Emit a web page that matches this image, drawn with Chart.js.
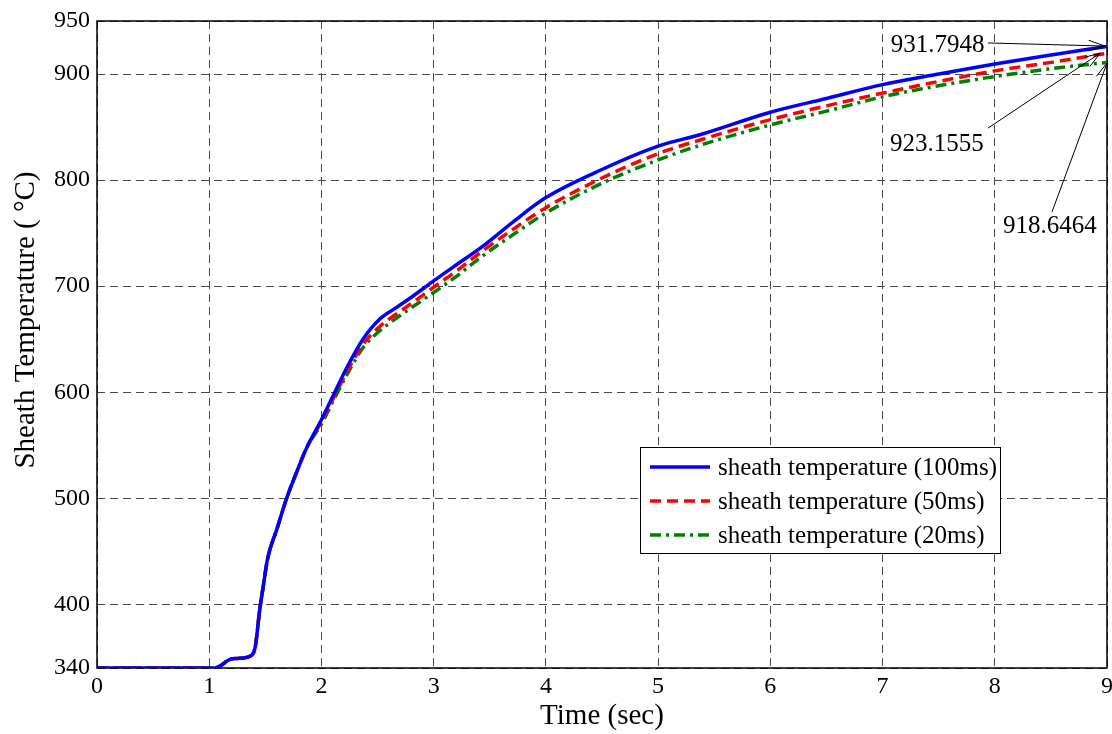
<!DOCTYPE html>
<html>
<head>
<meta charset="utf-8">
<script src="https://cdn.jsdelivr.net/npm/chart.js@4.4.1/dist/chart.umd.min.js"></script>
<style>
  html, body { margin: 0; padding: 0; background: #fff; }
  #wrap { width: 1112px; height: 734px; }
</style>
</head>
<body>
<div id="wrap"><canvas id="tempChart"></canvas></div>
<script>
// tiempo (s)
const tiempo = [0, 0.5, 1.05, 1.1, 1.18, 1.25, 1.36, 1.41, 1.45, 1.48, 1.52, 1.6, 1.69, 1.78, 1.87, 2.0, 2.11, 2.23,
    2.37, 2.52, 2.67, 2.82, 3.0, 3.2, 3.43, 3.7, 4.0, 4.5, 5.0, 5.38, 6.0, 6.5, 7.0, 7.5, 8.0, 8.5, 9.0];

// temperatura de la vaina para cada paso
const temp100ms = [340, 340, 340, 342, 348, 349, 351, 360, 395, 416, 443, 470, 500, 525, 548, 574, 598, 624,
    650, 669, 680, 691, 705, 720, 737, 760, 783.5, 810, 832, 843, 864, 877, 890, 900, 909.5, 918, 926];
const temp50ms = [340, 340, 340, 342, 348, 349, 351, 360, 395, 416, 443, 470, 500, 525, 548, 572, 595, 620,
    645, 662, 674, 685, 699, 714, 732.7, 753, 774, 802, 825, 838, 857, 870, 882, 893, 903, 911, 919.5];
const temp20ms = [340, 340, 340, 342, 348, 349, 351, 360, 395, 416, 443, 470, 500, 525, 548, 570, 593, 617,
    642, 658, 670, 681, 694, 709, 728, 748, 769, 797, 819, 833, 852, 865, 878.5, 889, 897.6, 905, 911];

const yTicks = [340, 400, 500, 600, 700, 800, 900, 950];
const xTicks = [0, 1, 2, 3, 4, 5, 6, 7, 8, 9];

// etiquetas de los valores finales: [texto, x texto, y texto, x flecha, y flecha, x punta, y punta]
const etiquetas = [
    ['931.7948', 7.49, 927.4, 7.94, 929.3, 8.98, 926.4],
    ['923.1555', 7.485, 834, 7.94, 849, 8.94, 919.8],
    ['918.6464', 8.49, 756.7, 8.51, 770, 9.0, 910.4]
];

const yTitulo = 'Sheath Temperature ( °C)';

const serif = "'Liberation Serif', 'Times New Roman', serif";

const toPoints = values => tiempo.map((t, i) => ({ x: t, y: values[i] }));

const matlabPlugin = {
    id: 'matlabExtras',
    beforeDatasetsDraw(chart) {
        const { ctx, chartArea: a } = chart;
        ctx.save();
        ctx.strokeStyle = '#000';
        ctx.lineWidth = 1.5;
        ctx.strokeRect(a.left, a.top, a.right - a.left, a.bottom - a.top);

        // titulo del eje y (algo por encima del centro, como en el original)
        ctx.translate(26, 320);
        ctx.rotate(-Math.PI / 2);
        ctx.font = '29px ' + serif;
        ctx.fillStyle = '#000';
        ctx.textAlign = 'center';
        ctx.textBaseline = 'middle';
        ctx.fillText(yTitulo, 0, 0);
        ctx.restore();
    },
    afterDatasetsDraw(chart) {
        const { ctx, scales } = chart;
        const xs = scales.x, ys = scales.y;

        // flechas y textos
        ctx.save();
        ctx.font = '25px ' + serif;
        ctx.fillStyle = '#000';
        ctx.strokeStyle = '#000';
        ctx.lineWidth = 1;
        ctx.textAlign = 'center';
        ctx.textBaseline = 'middle';
        etiquetas.forEach(([txt, tx, ty, sx, sy, ex, ey]) => {
            ctx.fillText(txt, xs.getPixelForValue(tx), ys.getPixelForValue(ty));
            const x0 = xs.getPixelForValue(sx), y0 = ys.getPixelForValue(sy);
            const x1 = xs.getPixelForValue(ex), y1 = ys.getPixelForValue(ey);
            ctx.beginPath();
            ctx.moveTo(x0, y0);
            ctx.lineTo(x1, y1);
            ctx.stroke();
            const ang = Math.atan2(y1 - y0, x1 - x0);
            const len = 17, spread = 0.32;
            ctx.beginPath();
            ctx.moveTo(x1 - len * Math.cos(ang - spread), y1 - len * Math.sin(ang - spread));
            ctx.lineTo(x1, y1);
            ctx.lineTo(x1 - len * Math.cos(ang + spread), y1 - len * Math.sin(ang + spread));
            ctx.stroke();
        });
        ctx.restore();

        // leyenda
        const box = { left: 640, top: 447, width: 360, height: 106 };
        ctx.save();
        ctx.fillStyle = '#fff';
        ctx.fillRect(box.left, box.top, box.width, box.height);
        ctx.strokeStyle = '#000';
        ctx.lineWidth = 1;
        ctx.strokeRect(box.left + 0.5, box.top + 0.5, box.width, box.height);
        ctx.font = '25px ' + serif;
        ctx.textAlign = 'left';
        ctx.textBaseline = 'middle';
        chart.data.datasets.forEach((ds, i) => {
            const y = box.top + 20 + i * 34;
            ctx.beginPath();
            ctx.strokeStyle = ds.borderColor;
            ctx.lineWidth = ds.borderWidth;
            ctx.setLineDash(ds.borderDash || []);
            ctx.moveTo(650, y);
            ctx.lineTo(710, y);
            ctx.stroke();
            ctx.setLineDash([]);
            ctx.fillStyle = '#000';
            ctx.fillText(ds.label, 718, y + 1);
        });
        ctx.restore();
    }
};

new Chart(document.getElementById('tempChart'), {
    type: 'line',
    data: {
        datasets: [
            {
                label: 'sheath temperature (100ms)',
                data: toPoints(temp100ms),
                borderColor: '#0000ff',
                borderWidth: 3.5,
                pointRadius: 0,
                cubicInterpolationMode: 'monotone'
            },
            {
                label: 'sheath temperature (50ms)',
                data: toPoints(temp50ms),
                borderColor: '#ff0000',
                borderWidth: 3.5,
                borderDash: [11, 6],
                pointRadius: 0,
                cubicInterpolationMode: 'monotone'
            },
            {
                label: 'sheath temperature (20ms)',
                data: toPoints(temp20ms),
                borderColor: '#008000',
                borderWidth: 3.5,
                borderDash: [11, 5, 3, 5],
                pointRadius: 0,
                cubicInterpolationMode: 'monotone'
            }
        ]
    },
    options: {
        responsive: true,
        maintainAspectRatio: false,
        animation: false,
        layout: { padding: { top: 21, right: 5, left: 0, bottom: 0 } },
        plugins: {
            legend: { display: false },
            tooltip: { enabled: false }
        },
        scales: {
            x: {
                type: 'linear',
                min: 0,
                max: 9,
                afterBuildTicks: s => { s.ticks = xTicks.map(v => ({ value: v })); },
                afterFit: s => { s.height = 66; s.paddingLeft = 0; s.paddingRight = 0; },
                grid: { color: '#4a4a4a', lineWidth: 1, drawTicks: false },
                border: { display: false, dash: [8, 5] },
                ticks: { color: '#000', padding: 4, maxRotation: 0, font: { family: serif, size: 24 } },
                title: {
                    display: true,
                    text: 'Time (sec)',
                    color: '#000',
                    padding: { top: 0, bottom: 0 },
                    font: { family: serif, size: 29 }
                }
            },
            y: {
                min: 340,
                max: 950,
                afterBuildTicks: s => { s.ticks = yTicks.map(v => ({ value: v })); },
                afterFit: s => { s.width = 97; s.paddingTop = 0; s.paddingBottom = 0; },
                grid: { color: '#4a4a4a', lineWidth: 1, drawTicks: false },
                border: { display: false, dash: [8, 5] },
                ticks: { color: '#000', padding: 7, font: { family: serif, size: 24 } },
                title: { display: false }
            }
        }
    },
    plugins: [matlabPlugin]
});
</script>
</body>
</html>
